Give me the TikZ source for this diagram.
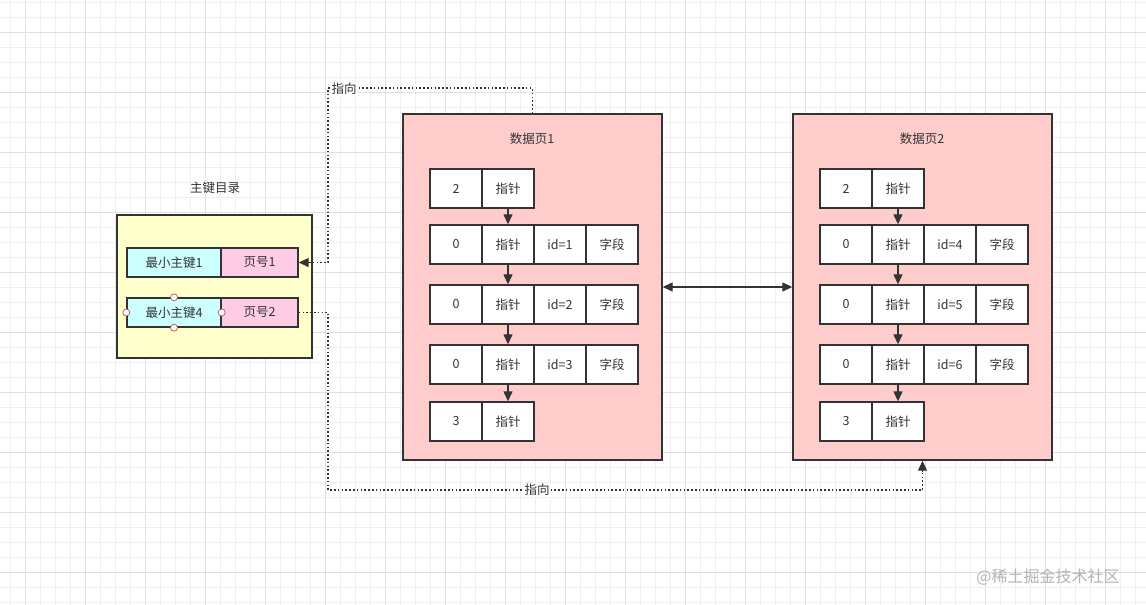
\documentclass[tikz,border=0pt]{standalone}
\usepackage{fontspec}
\setmainfont{Noto Sans CJK SC}
\usetikzlibrary{arrows.meta}
\definecolor{ink}{HTML}{333333}
\definecolor{gridminor}{HTML}{EFEFEF}
\definecolor{gridmajor}{HTML}{E0E0E0}
\definecolor{pagefill}{HTML}{FFCCCC}
\definecolor{idxfill}{HTML}{FFFFCC}
\definecolor{keyfill}{HTML}{CCFFFF}
\definecolor{numfill}{HTML}{FFCCE6}
\definecolor{handle}{HTML}{B85450}
\definecolor{wm}{HTML}{B3B3B3}
\tikzset{
  cell/.style={draw=ink, line width=1.4pt, fill=white, minimum width=52pt, minimum height=39pt, inner sep=0pt, text=ink},
  pagebox/.style={draw=ink, line width=1.4pt, fill=pagefill, minimum width=259pt, minimum height=346pt, inner sep=0pt},
  idxbox/.style={draw=ink, line width=1.4pt, fill=idxfill, minimum width=195pt, minimum height=143pt, inner sep=0pt},
  keycell/.style={draw=ink, line width=1.4pt, fill=keyfill, minimum width=94pt, minimum height=29pt, inner sep=0pt, text=ink},
  numcell/.style={draw=ink, line width=1.4pt, fill=numfill, minimum width=77pt, minimum height=29pt, inner sep=0pt, text=ink},
  ttl/.style={text=ink, inner sep=1pt},
  lbl/.style={text=ink, fill=white, inner sep=1pt},
  tip/.style={-{Triangle[length=10pt,width=9pt]}},
  arr/.style={draw=ink, line width=1.3pt, tip},
  darr/.style={draw=ink, line width=1.3pt, {Triangle[length=10pt,width=9pt]}-{Triangle[length=10pt,width=9pt]}},
  ptr/.style={draw=ink, line width=1.8pt, dash pattern=on 1.6pt off 2.2pt},
  hnd/.style={circle, draw=handle, fill=white, line width=0.7pt, minimum size=7pt, inner sep=0pt},
}
\begin{document}
\begin{tikzpicture}[x=1pt,y=-1pt,font=\fontsize{12.5}{15}\selectfont]
\useasboundingbox (0,0) rectangle (1146,605);
\fill[white] (0,0) rectangle (1146,605);
% grid
\foreach \x in {10,25,...,1146} \draw[gridminor,line width=0.6pt] (\x,0) -- (\x,605);
\foreach \y in {2.3,17.3,...,605} \draw[gridminor,line width=0.6pt] (0,\y) -- (1146,\y);
\foreach \x in {25,85,...,1146} \draw[gridmajor,line width=0.8pt] (\x,0) -- (\x,605);
\foreach \y in {32.3,92.3,...,605} \draw[gridmajor,line width=0.8pt] (0,\y) -- (1146,\y);

% index directory
\node[ttl] (idxtitle) at (215,188) {主键目录};
\node[idxbox] (idx) at (214.5,286.5) {};
\node[keycell] (key1) at (174,262.5) {最小主键1};
\node[numcell] (num1) at (259.5,262.5) {页号1};
\node[keycell] (key2) at (174,312.5) {最小主键4};
\node[numcell] (num2) at (259.5,312.5) {页号2};
\node[hnd] (h1) at (key2.west) {};
\node[hnd] (h2) at (key2.north) {};
\node[hnd] (h3) at (key2.south) {};
\node[hnd] (h4) at (key2.east) {};

% data pages
\foreach \p/\off/\a/\b/\c in {1/0/1/2/3, 2/390/4/5/6} {
  \node[pagebox] (page\p) at (532.5+\off,287) {};
  \node[ttl] (title\p) at (532+\off,139) {数据页\p};
  % row 1
  \node[cell] (p\p r1c1) at (456+\off,188.5) {2};
  \node[cell] (p\p r1c2) at (508+\off,188.5) {指针};
  % rows 2-4
  \foreach \r/\y/\k in {2/244.5/\a, 3/304.5/\b, 4/364.5/\c} {
    \node[cell] (p\p r\r c1) at (456+\off,\y) {0};
    \node[cell] (p\p r\r c2) at (508+\off,\y) {指针};
    \node[cell] (p\p r\r c3) at (560+\off,\y) {id=\k};
    \node[cell] (p\p r\r c4) at (612+\off,\y) {字段};
  }
  % row 5
  \node[cell] (p\p r5c1) at (456+\off,421.5) {3};
  \node[cell] (p\p r5c2) at (508+\off,421.5) {指针};
  \foreach \r [evaluate=\r as \n using int(\r+1)] in {1,2,3,4} {
    \draw[arr] (p\p r\r c2.south) -- (p\p r\n c2.north);
  }
}

% link between pages
\draw[darr] (page1.east) -- (page2.west);

% pointer from page 1 to page number 1
\coordinate (c1) at (328,88);
\coordinate (c2) at (328,262.5);
\coordinate (c3) at (310,262.5);
\draw[ptr] (page1.north) |- (c1) -- (c2) -- (c3);
\draw[arr] (c3) -- (num1.east);
\node[lbl] (lbl1) at (344,89) {指向};

% pointer from page number 2 to page 2
\coordinate (c4) at (328,490);
\coordinate (c5) at (922.5,472);
\draw[ptr] (num2.east) -| (c4) -| (c5);
\draw[arr] (c5) -- (page2.south);
\node[lbl] (lbl2) at (537,490) {指向};

% watermark
\node[text=wm, font=\fontsize{16}{19}\selectfont, inner sep=0pt] (wmark) at (1048,577) {@稀土掘金技术社区};
\end{tikzpicture}
\end{document}
